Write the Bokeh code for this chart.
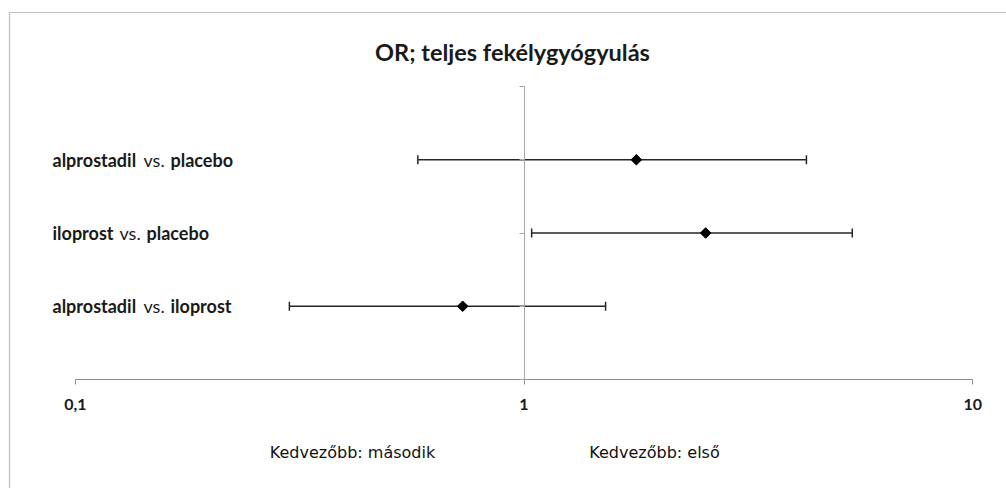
import numpy as np
from bokeh.plotting import figure
from bokeh.models import (Range1d, LinearScale, FixedTicker, ColumnDataSource,
                          Whisker, TeeHead, CustomJSTickFormatter)
from bokeh.core.properties import value
from bokeh.embed import file_html
from bokeh.resources import INLINE

# --- data -----------------------------------------------------------------
title_text = "OR; teljes fekélygyógyulás"
first_drug = ["alprostadil", "iloprost", "alprostadil"]
second_drug = ["placebo", "placebo", "iloprost"]
row_pos = [3, 2, 1]
odds_ratio = [1.78, 2.54, 0.73]
ci_lower = [0.58, 1.04, 0.30]
ci_upper = [4.26, 5.39, 1.52]
tick_values = [0.1, 1, 10]
tick_labels = ["0,1", "1", "10"]
side_labels = ["Kedvezőbb: második", "Kedvezőbb: első"]

# --- layout (pixels) ------------------------------------------------------
W, H = 1006, 488
ONE_PX = 523.5      # screen x of OR = 1
DECADE_PX = 448.7   # pixels per decade
ZERO_PY = 379       # screen y of the horizontal axis
ROW_PX = 73.25      # pixels per row unit

x_start = 10 ** (-ONE_PX / DECADE_PX)
x_end = 10 ** ((W - ONE_PX) / DECADE_PX)
y_start = -(H - ZERO_PY) / ROW_PX
y_end = ZERO_PY / ROW_PX

p = figure(width=W, height=H, x_axis_type="log",
           x_range=Range1d(x_start, x_end), y_range=Range1d(y_start, y_end),
           output_backend="svg", toolbar_location=None, min_border=0,
           background_fill_color="white", border_fill_color="white")
p.outline_line_color = None
p.grid.visible = False

# pixel-space ranges for the frame decoration and free-standing texts
p.extra_x_ranges = {"px": Range1d(0, W)}
p.extra_y_ranges = {"px": Range1d(H, 0)}
p.extra_x_scales = {"px": LinearScale()}
p.extra_y_scales = {"px": LinearScale()}

# outer chart-area border (left and top edges)
p.line(x=[9, 9, W + 5], y=[H + 5, 12, 12], x_range_name="px", y_range_name="px",
       line_color="#bfbfbf", line_width=1.2)

# --- horizontal log axis crossing at row 0 --------------------------------
xa = p.xaxis[0]
xa.fixed_location = 0
xa.bounds = (0.1, 10)
xa.ticker = FixedTicker(ticks=tick_values, minor_ticks=[])
xa.major_label_overrides = {v: t for v, t in zip(tick_values, tick_labels)}
xa.axis_line_color = "#8c8c8c"
xa.major_tick_line_color = "#8c8c8c"
xa.major_tick_out = 5
xa.major_tick_in = 0
xa.minor_tick_out = 0
xa.minor_tick_in = 0
xa.major_label_standoff = 14
xa.major_label_text_font = "Lato"
xa.major_label_text_font_style = "bold"
xa.major_label_text_font_size = "16px"
xa.major_label_text_color = "#1a1a1a"

# --- vertical axis crossing at OR = 1 -------------------------------------
ya = p.yaxis[0]
ya.fixed_location = 1
ya.bounds = (0, 4)
ya.ticker = FixedTicker(ticks=[0, 1, 2, 3, 4], minor_ticks=[])
ya.formatter = CustomJSTickFormatter(code="return ''")
ya.axis_line_color = "#a6a6a6"
ya.major_tick_line_color = "#a6a6a6"
ya.major_tick_out = 5
ya.major_tick_in = 0
ya.minor_tick_out = 0
ya.minor_tick_in = 0

# --- estimates with confidence intervals ----------------------------------
src = ColumnDataSource(dict(row=row_pos, lo=ci_lower, hi=ci_upper, mid=odds_ratio,
                            first=first_drug, second=second_drug,
                            vs=["vs."] * len(row_pos)))

bar_color = "#262626"
p.add_layout(Whisker(base="row", lower="lo", upper="hi", dimension="width", source=src,
                     line_color=bar_color, line_width=1.5,
                     lower_head=TeeHead(size=9, line_color=bar_color, line_width=1.5),
                     upper_head=TeeHead(size=9, line_color=bar_color, line_width=1.5)))

p.scatter(x="mid", y="row", source=src, marker="square", angle=np.pi / 4,
          size=7.5, fill_color="black", line_color="black")

# --- row labels: bold drug names, regular "vs." ---------------------------
label_style = dict(text_font=value("Lato"), text_font_size="18px",
                   text_color="#1a1a1a", text_align="left", text_baseline="alphabetic",
                   source=src, x_range_name="px")
p.text(x=52, y="row", text="first", text_font_style="bold", **label_style)
first_end = [137, 113, 137]
src.data["vs_x"] = [e + 6 for e in first_end]
src.data["second_x"] = [e + 33 for e in first_end]
p.text(x="vs_x", y="row", text="vs", text_font_style="normal", **label_style)
p.text(x="second_x", y="row", text="second", text_font_style="bold", **label_style)

# --- title ------------------------------------------------------------------
p.text(x=[512], y=[51], text=[title_text], x_range_name="px", y_range_name="px",
       text_font=value("Lato"), text_font_style="bold", text_font_size="23.5px",
       text_color="#1a1a1a", text_align="center", text_baseline="alphabetic")

# --- direction labels under the axis -----------------------------------------
p.text(x=[352, 654], y=[452, 452], text=side_labels, x_range_name="px", y_range_name="px",
       text_font=value("DejaVu Sans"), text_font_style="normal", text_font_size="16px",
       text_color="#111111", text_align="center", text_baseline="alphabetic")

open("out.html", "w").write(file_html(p, INLINE))
